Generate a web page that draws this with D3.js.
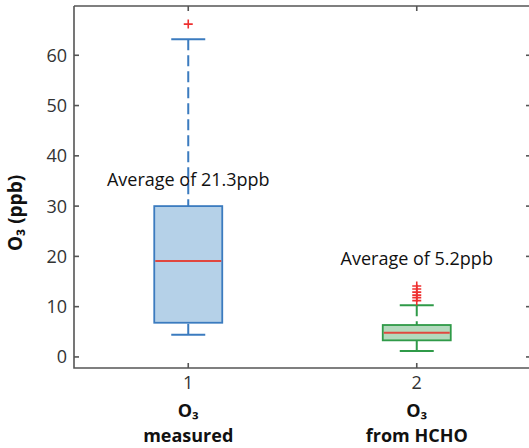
<!DOCTYPE html>
<html>
<head>
<meta charset="utf-8">
<script src="https://cdn.jsdelivr.net/npm/d3@7"></script>
<style>
  body { margin: 0; background: #fff; }
  svg { display: block; }
  text { font-family: "Open Sans", "Noto Sans", sans-serif; }
</style>
</head>
<body>
<div id="chart"></div>
<script>
// box stats
var groups = ["1", "2"];
var groupNames = [["O\u2083", "measured"], ["O\u2083", "from HCHO"]];
var lowWhisker = [4.4, 1.2];
var q1 = [6.8, 3.3];
var median = [19.1, 4.8];
var q3 = [30.0, 6.35];
var highWhisker = [63.2, 10.3];
var outliers = [[66.2], [11.2, 11.8, 12.3, 12.9, 13.5, 14.1]];
var averages = ["Average of 21.3ppb", "Average of 5.2ppb"];
var avgPos = [34.0, 18.3];
var yTicks = [0, 10, 20, 30, 40, 50, 60];

var strokes = ["#3b7bbf", "#2f9a48"];
var fills = ["#b5d1e8", "#b3d9bd"];
var axisColor = "#555";

var width = 529, height = 448;
var margin = {top: 6, right: -2, bottom: 80, left: 74};

var svg = d3.select("#chart").append("svg")
    .attr("width", width)
    .attr("height", height);

var x = d3.scaleLinear()
    .domain([0.5, 2.5])
    .range([margin.left, width - margin.right]);

var y = d3.scaleLinear()
    .domain([-2.2, 69.8])
    .range([height - margin.bottom, margin.top]);

var boxW = 68, capW = 34;

var g = svg.append("g");

// whiskers (dashed, MATLAB style)
groups.forEach(function (k, i) {
    var cx = x(i + 1);
    g.append("line")
        .attr("x1", cx).attr("x2", cx)
        .attr("y1", y(highWhisker[i])).attr("y2", y(q3[i]))
        .attr("stroke", strokes[i]).attr("stroke-width", 2)
        .attr("stroke-dasharray", "11,5");
    g.append("line")
        .attr("x1", cx).attr("x2", cx)
        .attr("y1", y(lowWhisker[i])).attr("y2", y(q1[i]))
        .attr("stroke", strokes[i]).attr("stroke-width", 2)
        .attr("stroke-dasharray", "11,5");
    [lowWhisker[i], highWhisker[i]].forEach(function (v) {
        g.append("line")
            .attr("x1", cx - capW / 2).attr("x2", cx + capW / 2)
            .attr("y1", y(v)).attr("y2", y(v))
            .attr("stroke", strokes[i]).attr("stroke-width", 2);
    });

    g.append("rect")
        .attr("x", cx - boxW / 2)
        .attr("y", y(q3[i]))
        .attr("width", boxW)
        .attr("height", y(q1[i]) - y(q3[i]))
        .attr("fill", fills[i])
        .attr("stroke", strokes[i])
        .attr("stroke-width", 1.8);

    g.append("line")
        .attr("x1", cx - boxW / 2 + 1).attr("x2", cx + boxW / 2 - 1)
        .attr("y1", y(median[i])).attr("y2", y(median[i]))
        .attr("stroke", "#e0473f").attr("stroke-width", 2);

    // outliers as red plus signs
    g.selectAll(null)
        .data(outliers[i])
        .enter().append("path")
        .attr("d", function (d) {
            var py = y(d), s = 4.5;
            return "M" + (cx - s) + "," + py + "H" + (cx + s) +
                "M" + cx + "," + (py - s) + "V" + (py + s);
        })
        .attr("stroke", "#ee3030")
        .attr("stroke-width", 1.6)
        .attr("fill", "none");

    svg.append("text")
        .attr("x", cx)
        .attr("y", y(avgPos[i]))
        .attr("text-anchor", "middle")
        .attr("font-size", 18)
        .attr("fill", "#111")
        .text(averages[i]);
});

// axes box
var x0 = x.range()[0], x1 = x.range()[1];
var y0 = y.range()[0], y1 = y.range()[1];
var ax = svg.append("g").attr("stroke", axisColor).attr("stroke-width", 1.6).attr("fill", "none");
ax.append("path").attr("d", "M" + x0 + "," + y1 + "V" + y0 + "H" + x1 + "V" + y1 + "H" + x0);

// y ticks inside, both sides
yTicks.forEach(function (t) {
    ax.append("line").attr("x1", x0).attr("x2", x0 + 5).attr("y1", y(t)).attr("y2", y(t));
    ax.append("line").attr("x1", x1).attr("x2", x1 - 5).attr("y1", y(t)).attr("y2", y(t));
});
groups.forEach(function (k, i) {
    var cx = x(i + 1);
    ax.append("line").attr("x1", cx).attr("x2", cx).attr("y1", y0).attr("y2", y0 - 5);
    ax.append("line").attr("x1", cx).attr("x2", cx).attr("y1", y1).attr("y2", y1 + 5);
});

svg.append("g").selectAll("text")
    .data(yTicks)
    .enter().append("text")
    .attr("x", x0 - 7)
    .attr("y", function (d) { return y(d); })
    .attr("dy", "0.36em")
    .attr("text-anchor", "end")
    .attr("font-size", 18)
    .attr("fill", "#333")
    .text(function (d) { return d; });

groups.forEach(function (k, i) {
    var cx = x(i + 1);
    svg.append("text")
        .attr("x", cx).attr("y", 389)
        .attr("text-anchor", "middle")
        .attr("font-size", 18)
        .attr("fill", "#333")
        .text(k);
    groupNames[i].forEach(function (line, j) {
        svg.append("text")
            .attr("x", cx).attr("y", 417 + j * 25)
            .attr("text-anchor", "middle")
            .attr("font-size", 18)
            .attr("font-weight", "bold")
            .attr("fill", "#111")
            .text(line);
    });
});

svg.append("text")
    .attr("transform", "translate(22," + ((y0 + y1) / 2 + 26) + ") rotate(-90)")
    .attr("text-anchor", "middle")
    .attr("font-size", 19)
    .attr("font-weight", "bold")
    .attr("fill", "#111")
    .text("O\u2083 (ppb)");
</script>
</body>
</html>
